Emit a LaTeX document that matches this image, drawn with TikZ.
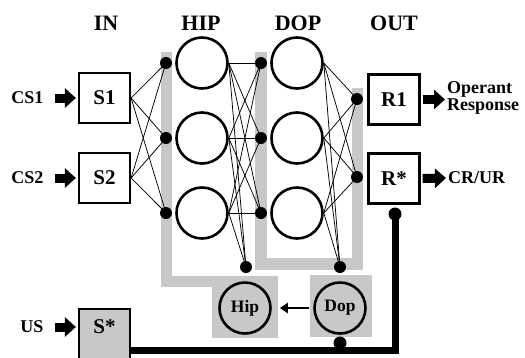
\documentclass[tikz,border=0pt]{standalone}
\usepackage{fontspec}
\setmainfont{Liberation Serif}
\usetikzlibrary{arrows.meta}
\definecolor{band}{RGB}{200,200,200}

\begin{document}
\begin{tikzpicture}[x=1pt,y=-1pt,
  fsz/.style={font=\fontsize{#1}{#1}\selectfont\bfseries},
  unitbox/.style={draw, line width=2.2pt, minimum width=51pt, minimum height=50pt, inner sep=0pt, fsz=21},
  neuron/.style={circle, draw, line width=2.6pt, minimum size=51pt, inner sep=0pt},
  smalldot/.style={circle, fill=black, minimum size=12pt, inner sep=0pt},
  syn/.style={line width=0.75pt},
  head/.style={fsz=22},
  side/.style={fsz=18, inner sep=0pt},
  blockarrow/.style={line width=9pt, -{Triangle[length=11pt,width=19pt]}},
  thickwire/.style={line width=7pt},
]
\useasboundingbox (0,0) rectangle (525,357);

% grey bands behind the layers
\fill[band] (161,52) rectangle (172,287);
\fill[band] (161,276) rectangle (278,287);
\fill[band] (212,276) rectangle (278,338);
\fill[band] (255,52) rectangle (267,270);
\fill[band] (255,258) rectangle (363,270);
\fill[band] (352,88) rectangle (363,270);
\fill[band] (310,275) rectangle (372,337);

% column headings
\node[head] (hin)  at (106,23) {IN};
\node[head] (hhip) at (201,23) {HIP};
\node[head] (hdop) at (298,23) {DOP};
\node[head] (hout) at (394,23) {OUT};

% input units
\node[unitbox] (s1) at (104.5,98) {S1};
\node[unitbox] (s2) at (104.5,178) {S2};
\node[unitbox, fill=band] (sstar) at (104.5,334) {};
\node[fsz=21] (sstarlbl) at (104.5,327) {S*};
\node[side] (cs1) at (27.5,98) {CS1};
\node[side] (cs2) at (27.5,178) {CS2};
\node[side] (us)  at (32,327) {US};

% output units
\node[unitbox] (r1) at (394,99.5) {R1};
\node[unitbox] (rstar) at (394,178.5) {R*};
\node[fsz=18, align=left, anchor=west, inner sep=0pt] (oper) at (447,98)
  {Operant\\[-1pt]Response};
\node[fsz=18, anchor=west, inner sep=0pt] (crur) at (448,178) {CR/UR};

% hidden layers
\foreach \i/\y in {1/63,2/138,3/213}{
  \node[neuron] (h\i) at (202,\y) {};
  \node[neuron] (d\i) at (297,\y) {};
  \coordinate (hi\i) at (166,\y);
  \coordinate (di\i) at (261,\y);
}
\coordinate (oi1) at (357,99);
\coordinate (oi2) at (357,177);
\coordinate (hipin) at (246,267);
\coordinate (dopin) at (340,267);
\coordinate (dopout) at (340,343);
\coordinate (rout) at (395,214);
\coordinate (corner) at (395,350);

% modulatory units
\node[neuron, fsz=17.5] (hipc) at (245,308) {Hip};
\node[neuron, fsz=17.5] (dopc) at (340,308) {Dop};

% connections
\foreach \s in {s1,s2}
  \foreach \j in {1,2,3}
    \draw[syn] (\s.east) -- (hi\j);
\foreach \i in {1,2,3}{
  \foreach \j in {1,2,3}
    \draw[syn] (h\i.east) -- (di\j);
  \draw[syn] (h\i.east) -- (hipin);
  \foreach \j in {1,2}
    \draw[syn] (d\i.east) -- (oi\j);
  \draw[syn] (d\i.east) -- (dopin);
}

% reinforcement wire
\draw[thickwire] (sstar.east |- corner) -- (corner) -- (rout);

% synapse dots
\foreach \j in {1,2,3}{
  \node[smalldot] at (hi\j) {};
  \node[smalldot] at (di\j) {};
}
\node[smalldot] at (oi1) {};
\node[smalldot] at (oi2) {};
\node[smalldot] at (hipin) {};
\node[smalldot] at (dopin) {};
\node[smalldot, minimum size=13pt] at (dopout) {};
\node[smalldot, minimum size=13pt] at (rout) {};

% stimulus and response arrows
\draw[blockarrow] ([xshift=11pt]cs1.east) -- ([xshift=-2pt]s1.west);
\draw[blockarrow] ([xshift=11pt]cs2.east) -- ([xshift=-2pt]s2.west);
\draw[blockarrow] ([xshift=11pt]us.east) -- ([xshift=-2pt]sstar.west |- us.east);
\draw[blockarrow] ([xshift=2pt]r1.east) -- ([xshift=-2pt]oper.west |- r1.east);
\draw[blockarrow] ([xshift=2pt]rstar.east) -- ([xshift=-2pt]crur.west);

% dopamine to hippocampus
\draw[line width=2.4pt, -{Triangle[length=8pt,width=10pt]}, shorten <=4pt, shorten >=8pt]
  (dopc.west) -- (hipc.east);
\end{tikzpicture}
\end{document}
